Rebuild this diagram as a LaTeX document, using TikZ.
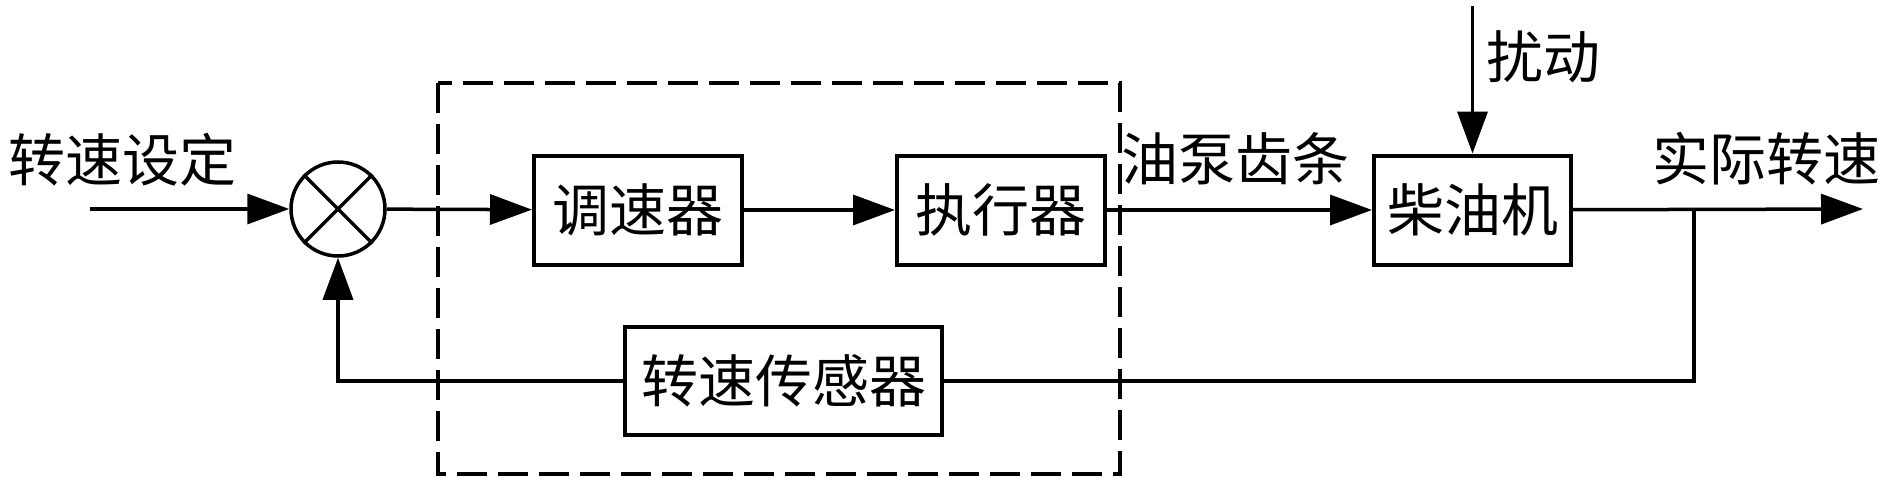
\documentclass[tikz,border=0pt]{standalone}
\usepackage{fontspec}
\newfontfamily\cjk{Noto Sans CJK SC}
\usetikzlibrary{arrows.meta}
\begin{document}
\begin{tikzpicture}[x=1pt,y=-1pt,
  txt/.style={font=\cjk\fontsize{57}{60}\selectfont},
  blk/.style={draw,line width=4pt,inner sep=0pt,txt},
  lab/.style={inner sep=0pt,anchor=west,txt},
  conn/.style={line width=3.5pt},
  arr/.style={conn,-{Triangle[length=42pt,width=30pt]}}]
\useasboundingbox (0,0) rectangle (1890,487);
% dashed enclosure
\draw[line width=4pt,dash pattern=on 30pt off 11pt] (438,83) rectangle (1120,474);
% blocks
\node[blk,minimum width=208pt,minimum height=109pt] (gov) at (638,210) {调速器};
\node[blk,minimum width=208pt,minimum height=109pt] (act) at (1001,210) {执行器};
\node[blk,minimum width=197pt,minimum height=109pt] (eng) at (1472.5,210) {柴油机};
\node[blk,minimum width=317pt,minimum height=108pt] (sen) at (783.5,381) {转速传感器};
% summing junction
\node[draw,circle,line width=3.5pt,minimum size=94pt,inner sep=0pt] (c) at (338,209) {};
\draw[conn] (c.north west) -- (c.south east) (c.north east) -- (c.south west);
% coordinates
\coordinate (in) at (90,209);
\coordinate (out) at (1863,209);
\coordinate (br) at (1694,209);
\coordinate (dtop) at (1472.5,6);
% connectors
\draw[arr] (in) -- (c);
\draw[arr] (c) -- (gov);
\draw[arr] (gov) -- (act);
\draw[arr] (act) -- (eng);
\draw[arr] (eng) -- (out);
\draw[arr] (dtop) -- (eng.north);
\draw[conn] (br) |- (sen.east);
\draw[arr] (sen.west) -| (c.south);
% labels
\node[lab] (l1) at (8,160) {转速设定};
\node[lab] (l2) at (1121,159) {油泵齿条};
\node[lab] (l3) at (1652,159) {实际转速};
\node[lab] (l4) at (1486,57) {扰动};
\end{tikzpicture}
\end{document}
